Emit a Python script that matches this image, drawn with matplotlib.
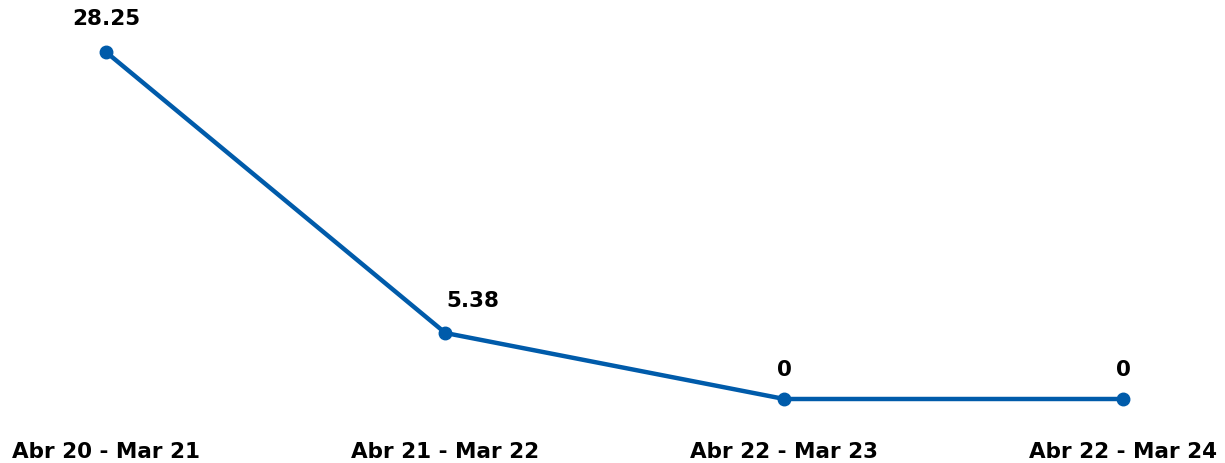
import matplotlib
matplotlib.use('Agg')
import matplotlib.pyplot as plt

# Data
periods = ['Abr 20 - Mar 21', 'Abr 21 - Mar 22', 'Abr 22 - Mar 23', 'Abr 22 - Mar 24']
values = [28.25, 5.38, 0, 0]
value_labels = ['28.25', '5.38', '0', '0']
# label offsets in points (dx, dy)
label_offsets = [(0, 25), (20, 24), (0, 21.5), (0, 21.5)]

color = '#005BAA'

plt.rcParams['font.family'] = ['DejaVu Sans']

fig = plt.figure(figsize=(12.25, 4.64), dpi=100)
ax = fig.add_axes([0, 0.084, 1, 0.916])

x = list(range(len(periods)))
ax.plot(x, values, color=color, linewidth=3.2, marker='o', markersize=9, solid_capstyle='round')

for xi, v, lab, off in zip(x, values, value_labels, label_offsets):
    ax.annotate(lab, (xi, v), xytext=off, textcoords='offset points',
                ha='center', va='center', fontsize=15.5, fontweight='bold', color='black')

ax.set_xlim(-0.314, 3.30)
ax.set_ylim(-2.04, 32.6)
ax.set_xticks(x)
ax.set_xticklabels(periods, fontsize=15.5, fontweight='bold')
ax.tick_params(axis='x', length=0, pad=12.5)
ax.set_yticks([])
for s in ax.spines.values():
    s.set_visible(False)

fig.savefig('out.png', dpi=100)
